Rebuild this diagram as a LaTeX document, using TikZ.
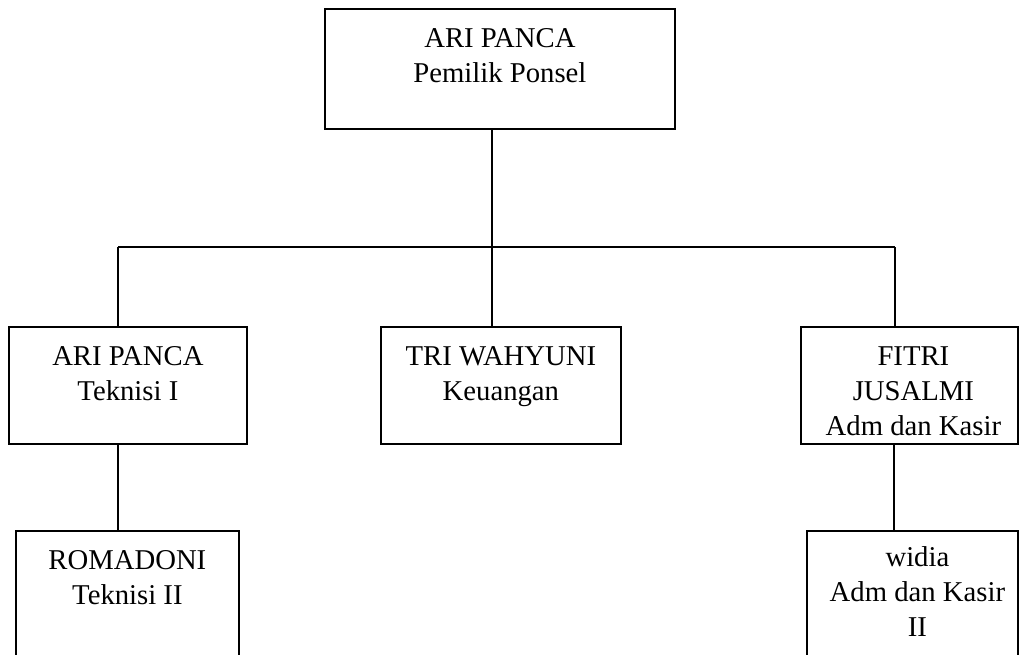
\documentclass[tikz,border=0pt]{standalone}
\usepackage{fontspec}
\setmainfont{Liberation Serif}
\begin{document}
\begin{tikzpicture}[x=1pt,y=-1pt,
  box/.style={draw=black,line width=1.8pt,rectangle,inner sep=0pt,anchor=north west},
  lbl/.style={align=center,inner sep=0pt,anchor=base,font=\fontsize{28.7}{35}\selectfont},
  conn/.style={draw=black,line width=1.6pt}]
\clip (0,0) rectangle (1019,654);
\fill[white] (0,0) rectangle (1019,654);
% boxes
\node[box,minimum width=350pt,minimum height=120pt] (top) at (324,8) {};
\node[box,minimum width=238pt,minimum height=117pt] (left) at (8,326) {};
\node[box,minimum width=240pt,minimum height=117pt] (mid) at (380,326) {};
\node[box,minimum width=217pt,minimum height=117pt] (right) at (800,326) {};
\node[box,minimum width=223pt,minimum height=160pt] (lb) at (15,530) {};
\node[box,minimum width=211pt,minimum height=160pt] (rb) at (806,530) {};
% texts (anchor = baseline of last line)
\node[lbl] (topt) at ([yshift=-74pt]top.north) {ARI PANCA\\Pemilik Ponsel};
\node[lbl] (leftt) at ([yshift=-74pt]left.north) {ARI PANCA\\Teknisi I};
\node[lbl] (midt) at ([yshift=-74pt]mid.north) {TRI WAHYUNI\\Keuangan};
\node[lbl] (rightt) at ([yshift=-109pt,xshift=4pt]right.north) {FITRI\\JUSALMI\\Adm dan Kasir};
\node[lbl] (lbt) at ([yshift=-74pt]lb.north) {ROMADONI\\Teknisi II};
\node[lbl] (rbt) at ([yshift=-106pt,xshift=5pt]rb.north) {widia\\Adm dan Kasir\\II};
% connectors
\coordinate (hl) at (118,247);
\coordinate (hr) at (895,247);
\draw[conn] (top.south -| 492,0) -- (mid.north -| 492,0);
\draw[conn] (hl) -- (hr);
\draw[conn] (hl) -- (hl |- left.north);
\draw[conn] (hr) -- (hr |- right.north);
\draw[conn] (left.south -| hl) -- (lb.north -| hl);
\draw[conn] ([xshift=-1pt]right.south -| hr) -- ([xshift=-1pt]rb.north -| hr);
\end{tikzpicture}
\end{document}
